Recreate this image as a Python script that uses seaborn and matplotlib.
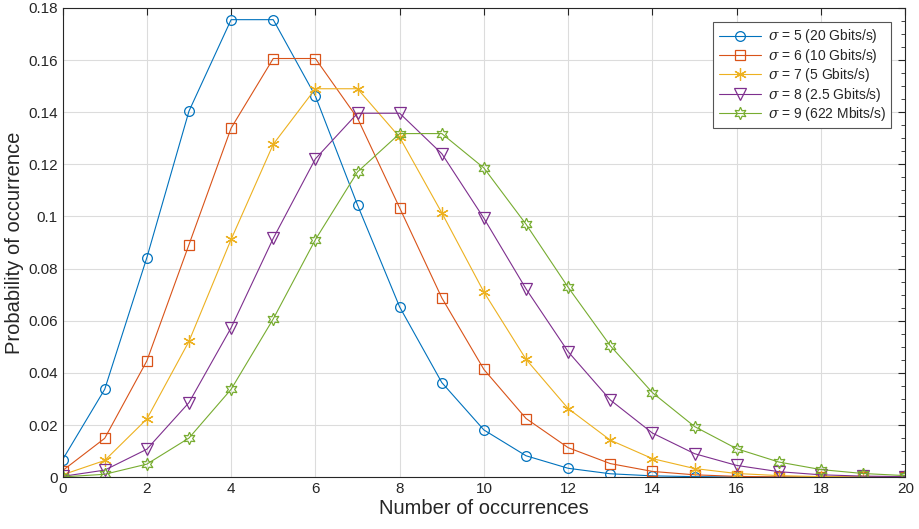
import numpy as np
import pandas as pd
import seaborn as sns
import matplotlib.pyplot as plt
from matplotlib.ticker import MultipleLocator, FuncFormatter

k = list(range(21))

p5 = [0.0067, 0.0337, 0.0842, 0.1404, 0.1755, 0.1755, 0.1462, 0.1044, 0.0653, 0.0363,
      0.0181, 0.0082, 0.0034, 0.0013, 0.0005, 0.0002, 0.00005, 0.00001, 0.0, 0.0, 0.0]
p6 = [0.0025, 0.0149, 0.0446, 0.0892, 0.1339, 0.1606, 0.1606, 0.1377, 0.1033, 0.0688,
      0.0413, 0.0225, 0.0113, 0.0052, 0.0022, 0.0009, 0.0003, 0.0001, 0.00004, 0.00001, 0.0]
p7 = [0.0009, 0.0064, 0.0223, 0.0521, 0.0912, 0.1277, 0.1490, 0.1490, 0.1304, 0.1014,
      0.0710, 0.0452, 0.0263, 0.0142, 0.0071, 0.0033, 0.0014, 0.0006, 0.0002, 0.0001, 0.00003]
p8 = [0.0003, 0.0027, 0.0107, 0.0286, 0.0573, 0.0916, 0.1221, 0.1396, 0.1396, 0.1241,
      0.0993, 0.0722, 0.0481, 0.0296, 0.0169, 0.0090, 0.0045, 0.0021, 0.0009, 0.0004, 0.0002]
p9 = [0.0001, 0.0011, 0.0050, 0.0150, 0.0337, 0.0607, 0.0911, 0.1171, 0.1318, 0.1318,
      0.1186, 0.0970, 0.0728, 0.0504, 0.0324, 0.0194, 0.0109, 0.0058, 0.0029, 0.0014, 0.0006]

labels = [r"$\sigma$ = 5 (20 Gbits/s)", r"$\sigma$ = 6 (10 Gbits/s)",
          r"$\sigma$ = 7 (5 Gbits/s)", r"$\sigma$ = 8 (2.5 Gbits/s)",
          r"$\sigma$ = 9 (622 Mbits/s)"]
series = [p5, p6, p7, p8, p9]
colors = ["#0072BD", "#D95319", "#EDB120", "#7E2F8E", "#77AC30"]
markers = ["o", "s", (6, 2, 0), "v", (6, 1, 0)]
msizes = [7, 7, 9, 8, 9]

sns.set_style("white")
plt.rcParams["font.family"] = ["Liberation Sans", "DejaVu Sans"]
plt.rcParams["mathtext.fontset"] = "dejavuserif"

fig, ax = plt.subplots(figsize=(9.2, 5.29), dpi=100)
fig.subplots_adjust(left=0.068, right=0.984, top=0.985, bottom=0.098)

for y, lab, c, m, ms in zip(series, labels, colors, markers, msizes):
    df = pd.DataFrame({"k": k, "p": y})
    sns.lineplot(data=df, x="k", y="p", ax=ax, color=c, marker=m, markersize=ms,
                 markerfacecolor="none", markeredgecolor=c, markeredgewidth=0.9,
                 linewidth=0.8, label=lab)

ax.set_xlim(0, 20)
ax.set_ylim(0, 0.18)
ax.xaxis.set_major_locator(MultipleLocator(2))
ax.yaxis.set_major_locator(MultipleLocator(0.02))
ax.yaxis.set_minor_locator(MultipleLocator(0.005))
ax.yaxis.set_major_formatter(FuncFormatter(lambda v, p: "%g" % round(v, 4)))
ax.tick_params(which="both", direction="in", top=True, right=True, labelsize=11,
               color="#262626", labelcolor="#262626")
ax.tick_params(which="major", length=5)
ax.tick_params(which="minor", length=3)
ax.grid(True, which="major", color="#dcdcdc", linewidth=0.8)
for s in ax.spines.values():
    s.set_color("#262626")
    s.set_linewidth(0.8)

ax.set_xlabel("Number of occurrences", fontsize=14.5, color="#262626", labelpad=2)
ax.set_ylabel("Probability of occurrence", fontsize=14.5, color="#262626", labelpad=3)

leg = ax.legend(loc="upper right", fontsize=10, frameon=True, fancybox=False,
                framealpha=1, edgecolor="#555555", handlelength=3.0,
                borderaxespad=1.0, labelspacing=0.1, borderpad=0.4,
                handletextpad=0.5)
leg.get_frame().set_linewidth(0.8)

plt.savefig("out.png", dpi=100)
